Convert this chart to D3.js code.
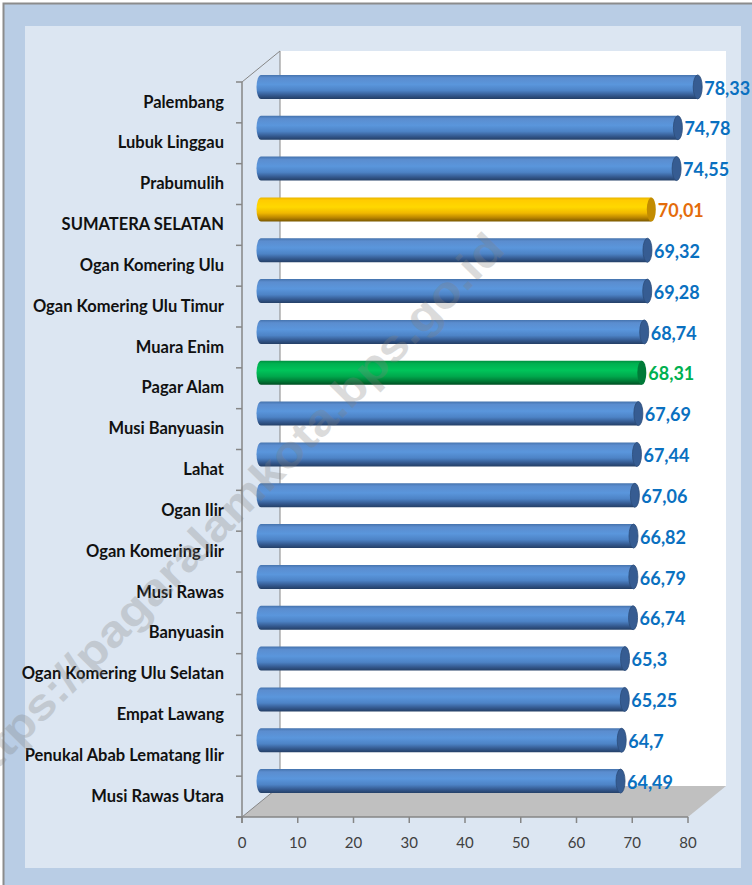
<!DOCTYPE html>
<html>
<head>
<meta charset="utf-8">
<script src="https://cdn.jsdelivr.net/npm/d3@7"></script>
<style>
  body { margin: 0; background: #fff; }
  svg { display: block; font-family: Lato, "Open Sans", sans-serif; }
</style>
</head>
<body>
<div class="chart"></div>
<script>
// Data.
const categories = [
  "Palembang", "Lubuk Linggau", "Prabumulih", "SUMATERA SELATAN",
  "Ogan Komering Ulu", "Ogan Komering Ulu Timur", "Muara Enim", "Pagar Alam",
  "Musi Banyuasin", "Lahat", "Ogan Ilir", "Ogan Komering Ilir", "Musi Rawas",
  "Banyuasin", "Ogan Komering Ulu Selatan", "Empat Lawang",
  "Penukal Abab Lematang Ilir", "Musi Rawas Utara"
];
const values = [78.33, 74.78, 74.55, 70.01, 69.32, 69.28, 68.74, 68.31,
  67.69, 67.44, 67.06, 66.82, 66.79, 66.74, 65.3, 65.25, 64.7, 64.49];
const labels = ["78,33", "74,78", "74,55", "70,01", "69,32", "69,28", "68,74", "68,31",
  "67,69", "67,44", "67,06", "66,82", "66,79", "66,74", "65,3", "65,25", "64,7", "64,49"];
const highlight = { "SUMATERA SELATAN": "gold", "Pagar Alam": "green" };
const xTicks = [0, 10, 20, 30, 40, 50, 60, 70, 80];

const W = 752, H = 885;
const depth = { x: 38, y: -31 };        // back wall offset
const mid = { x: 19, y: -15.5 };        // bars sit half way in depth
const plotL = 242, plotR = 688, plotT = 82, plotB = 817;

const x = d3.scaleLinear().domain([0, 80]).range([plotL, plotR]);
const y = d3.scaleBand().domain(categories).range([plotT, plotB]);

const svg = d3.select(".chart").append("svg")
    .attr("width", W)
    .attr("height", H);

// Frame and panel.
svg.append("rect").attr("x", 3.5).attr("y", 3.5).attr("width", 780).attr("height", 920)
    .attr("fill", "#b9cde5").attr("stroke", "#8c8c8c").attr("stroke-width", 2);
svg.append("rect").attr("x", 25).attr("y", 26).attr("width", 716).attr("height", 842)
    .attr("fill", "#dce6f2");

// Back wall and floor.
svg.append("rect")
    .attr("x", plotL + depth.x).attr("y", plotT + depth.y)
    .attr("width", plotR - plotL).attr("height", plotB - plotT)
    .attr("fill", "#fff");
svg.append("polygon")
    .attr("points", [[plotL, plotB], [plotR, plotB], [plotR + depth.x, plotB + depth.y], [plotL + depth.x, plotB + depth.y]].join(" "))
    .attr("fill", "#c0c0c0");

const axisColor = "#868686";
const grid = svg.append("g").attr("stroke", axisColor).attr("fill", "none");
grid.append("line").attr("x1", plotL + depth.x).attr("x2", plotL + depth.x)
    .attr("y1", plotT + depth.y).attr("y2", plotB + depth.y);
grid.append("line").attr("x1", plotL).attr("y1", plotT)
    .attr("x2", plotL + depth.x).attr("y2", plotT + depth.y);
grid.append("line").attr("x1", plotL).attr("y1", plotB)
    .attr("x2", plotL + depth.x).attr("y2", plotB + depth.y);
grid.append("line").attr("x1", plotL).attr("x2", plotL).attr("y1", plotT).attr("y2", plotB + 6).attr("stroke-width", 1.5);
grid.append("line").attr("x1", plotL - 6).attr("x2", plotR).attr("y1", plotB).attr("y2", plotB).attr("stroke-width", 1.5);

// Category ticks on the left axis.
grid.selectAll(".ytick")
    .data(categories.concat(["end"]))
    .enter().append("line")
    .attr("x1", plotL - 6).attr("x2", plotL)
    .attr("y1", (d, i) => plotT + i * y.bandwidth())
    .attr("y2", (d, i) => plotT + i * y.bandwidth())
    .attr("stroke-width", 1.5);

// Value axis ticks and labels.
grid.selectAll(".xtick")
    .data(xTicks)
    .enter().append("line")
    .attr("x1", (d) => x(d)).attr("x2", (d) => x(d))
    .attr("y1", plotB).attr("y2", plotB + 6)
    .attr("stroke-width", 1.5);
svg.append("g").selectAll("text")
    .data(xTicks)
    .enter().append("text")
    .attr("x", (d) => x(d)).attr("y", plotB + 27)
    .attr("text-anchor", "middle").attr("dominant-baseline", "middle")
    .attr("font-size", 15).attr("fill", "#404040")
    .text((d) => d);

// Category labels.
svg.append("g").selectAll("text")
    .data(categories)
    .enter().append("text")
    .attr("x", 224)
    .attr("y", (d) => y(d) + y.bandwidth() / 2 + 1)
    .attr("text-anchor", "end").attr("dominant-baseline", "middle")
    .attr("font-size", 16.5).attr("font-weight", "bold").attr("fill", "#111")
    .text((d) => d);

// Cylinder gradients.
const defs = svg.append("defs");
const palettes = {
  blue: [["0", "#4573ad"], ["0.12", "#5b8dcf"], ["0.4", "#5a96dc"], ["0.65", "#4d83c6"], ["0.85", "#34598f"], ["1", "#243f66"]],
  gold: [["0", "#e8b400"], ["0.12", "#ffcc00"], ["0.4", "#ffd800"], ["0.65", "#f0b800"], ["0.85", "#b88400"], ["1", "#7a5800"]],
  green: [["0", "#009040"], ["0.12", "#00b050"], ["0.4", "#00c45a"], ["0.65", "#00a84c"], ["0.85", "#007a36"], ["1", "#004d22"]]
};
const capColor = { blue: "#365c92", gold: "#c28c00", green: "#007a38" };
Object.keys(palettes).forEach((k) => {
  const g = defs.append("linearGradient").attr("id", "grad-" + k)
      .attr("x1", 0).attr("y1", 0).attr("x2", 0).attr("y2", 1);
  palettes[k].forEach((s) => g.append("stop").attr("offset", s[0]).attr("stop-color", s[1]));
});

const barH = 24, rx = 4.5;
const bars = svg.append("g").selectAll("g")
    .data(categories)
    .enter().append("g")
    .attr("transform", (d) => `translate(0,${y(d) + y.bandwidth() / 2 + mid.y})`);

bars.append("path")
    .attr("fill", (d) => `url(#grad-${highlight[d] || "blue"})`)
    .attr("d", (d, i) => {
      const x0 = x(0) + mid.x, x1 = x(values[i]) + mid.x, h = barH / 2;
      return `M${x0},${-h}L${x1},${-h}L${x1},${h}L${x0},${h}A${rx},${h} 0 0 1 ${x0},${-h}Z`;
    });
bars.append("ellipse")
    .attr("cx", (d, i) => x(values[i]) + mid.x)
    .attr("cy", 0).attr("rx", rx).attr("ry", barH / 2)
    .attr("fill", (d) => capColor[highlight[d] || "blue"])
    .attr("stroke", (d) => highlight[d] ? "none" : "#2c4c7a").attr("stroke-width", 0.8);

// Value labels.
const labelColor = { blue: "#0a70c0", gold: "#e46c0a", green: "#00b050" };
bars.append("text")
    .attr("x", (d, i) => x(values[i]) + mid.x + rx + 2)
    .attr("y", 3)
    .attr("dominant-baseline", "middle")
    .attr("font-size", 18).attr("font-weight", "bold")
    .attr("fill", (d) => labelColor[highlight[d] || "blue"])
    .text((d, i) => labels[i]);

// Watermark.
svg.append("text")
    .attr("transform", "translate(232,514) rotate(-45.5)")
    .attr("text-anchor", "middle").attr("dominant-baseline", "middle")
    .attr("font-family", "'Liberation Sans', Arial, sans-serif")
    .attr("font-size", 44).attr("font-weight", "bold")
    .attr("fill", "#808080").attr("opacity", 0.28)
    .attr("textLength", 760).attr("lengthAdjust", "spacingAndGlyphs")
    .text("https://pagaralamkota.bps.go.id");
</script>
</body>
</html>
